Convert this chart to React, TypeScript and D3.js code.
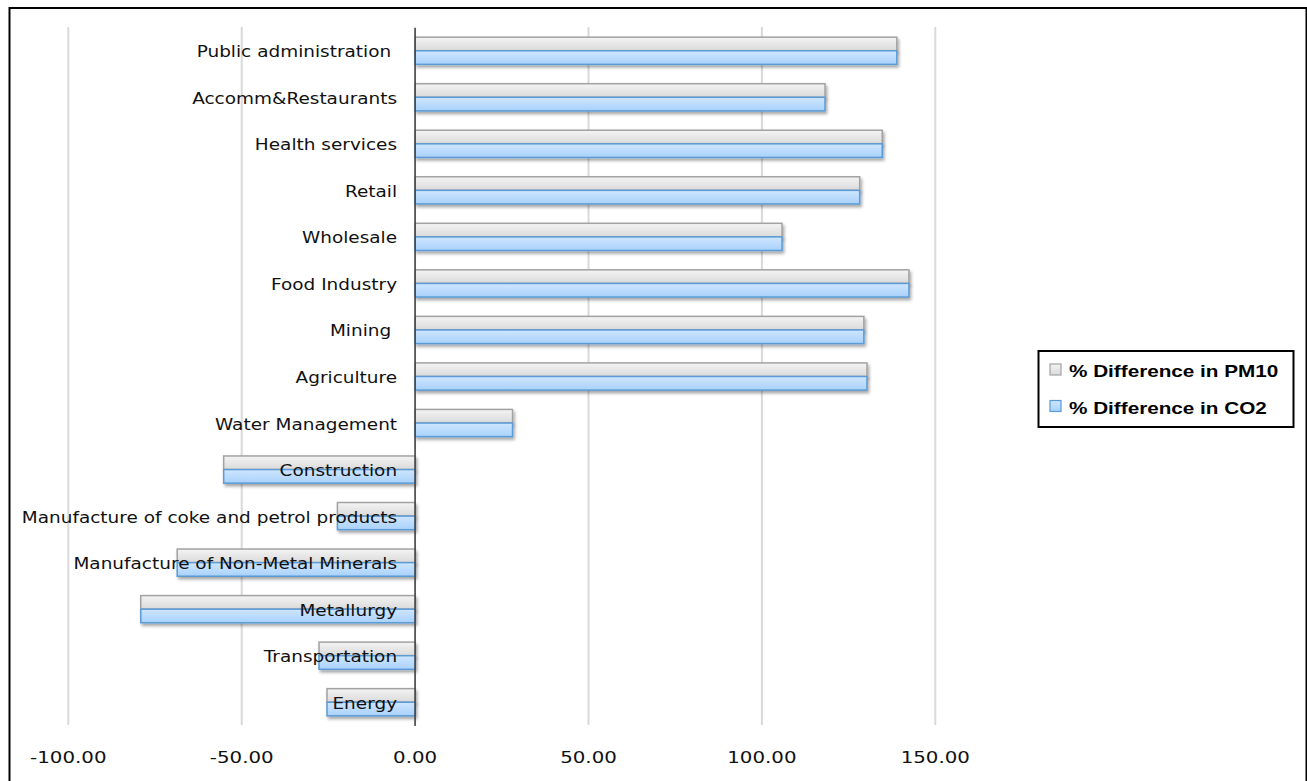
import React from "react";
import * as d3 from "d3";

const categories = [
  "Public administration ",
  "Accomm&Restaurants",
  "Health services",
  "Retail",
  "Wholesale",
  "Food Industry",
  "Mining ",
  "Agriculture",
  "Water Management",
  "Construction",
  "Manufacture of coke and petrol products",
  "Manufacture of Non-Metal Minerals",
  "Metallurgy",
  "Transportation",
  "Energy",
];

const pm10 = [138.9, 118.2, 134.7, 128.2, 105.8, 142.4, 129.4, 130.3, 28.1, -55.2, -22.4, -68.6, -79.1, -27.7, -25.4];
const co2 = [138.9, 118.2, 134.7, 128.2, 105.8, 142.4, 129.4, 130.3, 28.1, -55.2, -22.4, -68.6, -79.1, -27.7, -25.4];

const xTicks = [-100, -50, 0, 50, 100, 150];
const seriesNames = ["% Difference in PM10", "% Difference in CO2"];

const W = 1307;
const H = 781;

export default function App() {
  const x = d3.scaleLinear().domain([-100, 150]).range([68.3, 935.3]);
  const y = d3.scaleBand<string>().domain(categories).range([28, 726]).padding(0);
  const barH = 13.6;
  const labelFont = "'DejaVu Sans', Verdana, sans-serif";
  const sx = 1.12;
  const fmt = (t: number) => d3.format(".2f")(t).replace("\u2212", "-");

  const bar = (v: number, cat: string, k: number) => {
    const c = (y(cat) as number) + y.bandwidth() / 2 - barH + k * barH - 0.5;
    const x0 = Math.min(x(0), x(v));
    const w = Math.abs(x(v) - x(0));
    return (
      <rect
        key={cat + k}
        x={x0}
        y={c}
        width={w}
        height={barH}
        fill={k === 0 ? "url(#gGray)" : "url(#gBlue)"}
        stroke={k === 0 ? "#a2a2a2" : "#5b9bd5"}
        strokeWidth={1.5}
        filter="url(#shadow)"
      />
    );
  };

  return (
    <svg width={W} height={H} style={{ position: "absolute", left: 0, top: 0, background: "#fff" }}>
      <defs>
        <linearGradient id="gGray" x1="0" y1="0" x2="0" y2="1">
          <stop offset="0" stopColor="#f4f4f4" />
          <stop offset="1" stopColor="#dadada" />
        </linearGradient>
        <linearGradient id="gBlue" x1="0" y1="0" x2="0" y2="1">
          <stop offset="0" stopColor="#cfe6ff" />
          <stop offset="1" stopColor="#a9d1fb" />
        </linearGradient>
        <filter id="shadow" x="-10%" y="-50%" width="120%" height="220%">
          <feDropShadow dx="1.5" dy="2.5" stdDeviation="1.8" floodColor="#000" floodOpacity="0.35" />
        </filter>
      </defs>
      <rect x={0} y={0} width={W} height={H} fill="#fff" />
      <rect x={9.5} y={8} width={1297} height={790} fill="none" stroke="#000" strokeWidth={2} />

      {xTicks.map((t) => (
        <line key={"g" + t} x1={x(t)} x2={x(t)} y1={27} y2={725} stroke="#d9d9d9" strokeWidth={2} />
      ))}

      {categories.map((c, i) => (
        <g key={c}>
          {bar(pm10[i], c, 0)}
          {bar(co2[i], c, 1)}
        </g>
      ))}

      <line x1={x(0)} x2={x(0)} y1={28} y2={726} stroke="#404040" strokeWidth={1.5} />

      {categories.map((c) => (
        <text
          key={"l" + c}
          transform={`translate(${x(0) - 18},${(y(c) as number) + y.bandwidth() / 2 + 6}) scale(${sx},1)`}
          textAnchor="end"
          fontFamily={labelFont}
          fontSize={16.5}
          fill="#111"
          style={{ whiteSpace: "pre" }}
        >
          {c}
        </text>
      ))}

      {xTicks.map((t) => (
        <text
          key={"t" + t}
          transform={`translate(${x(t)},763) scale(1.2,1)`}
          textAnchor="middle"
          fontFamily={labelFont}
          fontSize={16.5}
          fill="#111"
        >
          {fmt(t)}
        </text>
      ))}

      <rect x={1038.5} y={351} width={255} height={76} fill="#fff" stroke="#000" strokeWidth={2} />
      {seriesNames.map((s, i) => (
        <g key={s}>
          <rect
            x={1050}
            y={364 + i * 36.5}
            width={11}
            height={11}
            fill={i === 0 ? "url(#gGray)" : "url(#gBlue)"}
            stroke={i === 0 ? "#a2a2a2" : "#5b9bd5"}
            strokeWidth={1.2}
          />
          <text
            transform={`translate(1069,${377 + i * 36.5}) scale(1.27,1)`}
            fontFamily="'Liberation Sans', Arial, sans-serif"
            fontWeight="bold"
            fontSize={16.3}
            fill="#000"
          >
            {s}
          </text>
        </g>
      ))}
    </svg>
  );
}
